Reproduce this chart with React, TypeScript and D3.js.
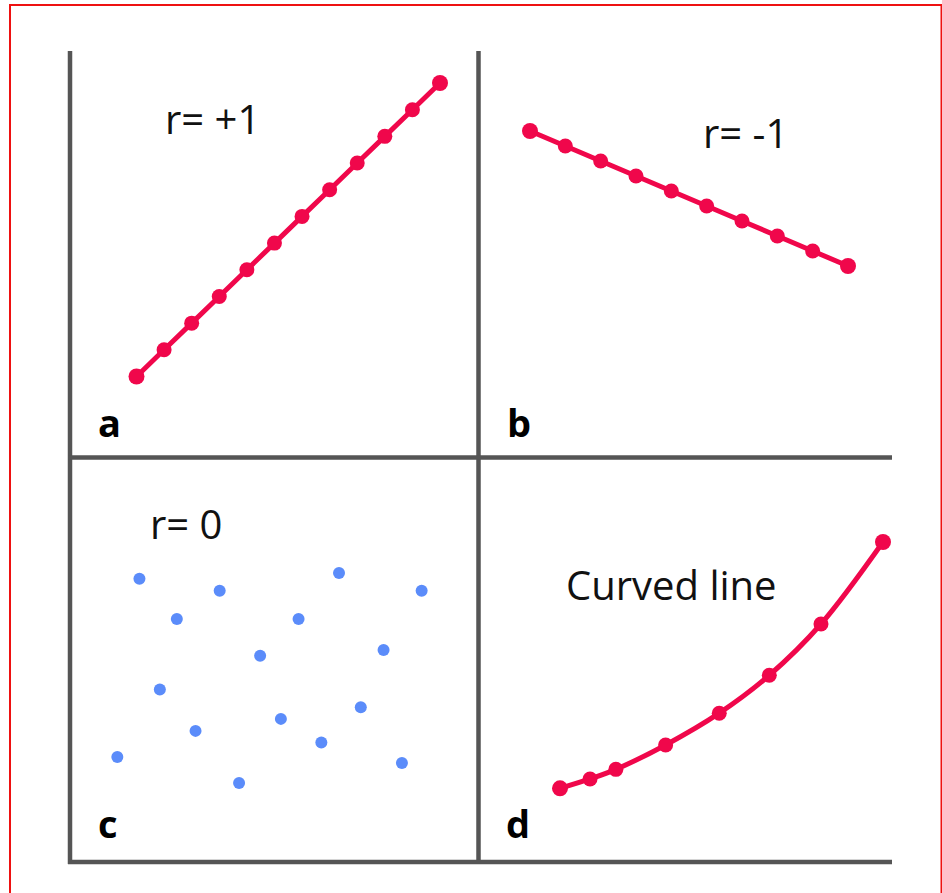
import React from "react";
import * as d3 from "d3";

// panel a: perfect positive correlation
const posX = [1, 2, 3, 4, 5, 6, 7, 8, 9, 10, 11, 12];
const posY = [1, 2, 3, 4, 5, 6, 7, 8, 9, 10, 11, 12];

// panel b: perfect negative correlation
const negX = [1, 2, 3, 4, 5, 6, 7, 8, 9, 10];
const negY = [10, 9, 8, 7, 6, 5, 4, 3, 2, 1];

// panel c: no correlation
const scatX = [11.6, 35.2, 70.3, 94.6, 22.6, 58.4, 47.1, 83.4, 17.6, 76.7, 53.2, 28.1, 65.1, 5.1, 88.8, 40.9];
const scatY = [92.2, 87.2, 94.6, 87.2, 75.4, 75.4, 60.1, 62.5, 46.0, 38.6, 33.8, 28.8, 24.0, 17.9, 15.4, 7.1];

// panel d: curved relationship
const curveX = [0, 0.93, 1.73, 3.27, 4.93, 6.48, 8.08, 10];
const curveY = [0, 0.38, 0.77, 1.76, 3.05, 4.59, 6.67, 10];

const panelLetters = ["a", "b", "c", "d"];
const panelTitles = ["r= +1", "r= -1", "r= 0", "Curved line"];

const RED = "#f0074b";
const BLUE = "#5b8cfa";
const GREY = "#555555";
const FONT = "'Open Sans', 'Noto Sans', sans-serif";

type Pt = [number, number];

function LineSeries({ pts, x, y, curve }: { pts: Pt[]; x: any; y: any; curve?: any }) {
  const gen = d3
    .line<Pt>()
    .x((d) => x(d[0]))
    .y((d) => y(d[1]))
    .curve(curve || d3.curveLinear);
  return (
    <g>
      <path d={gen(pts) || ""} fill="none" stroke={RED} strokeWidth={5} strokeLinecap="round" />
      {pts.map((d, i) => (
        <circle
          key={i}
          cx={x(d[0])}
          cy={y(d[1])}
          r={i === 0 || i === pts.length - 1 ? 8 : 7.5}
          fill={RED}
        />
      ))}
    </g>
  );
}

export default function App() {
  const aX = d3.scaleLinear().domain([1, 12]).range([136.5, 440]);
  const aY = d3.scaleLinear().domain([1, 12]).range([376.5, 83]);

  const bX = d3.scaleLinear().domain([1, 10]).range([530, 848]);
  const bY = d3.scaleLinear().domain([1, 10]).range([266, 131]);

  const cX = d3.scaleLinear().domain([0, 100]).range([100, 440]);
  const cY = d3.scaleLinear().domain([0, 100]).range([800, 560]);

  const dX = d3.scaleLinear().domain([0, 10]).range([560, 883]);
  const dY = d3.scaleLinear().domain([0, 10]).range([788.3, 542]);

  const aPts: Pt[] = posX.map((v, i) => [v, posY[i]]);
  const bPts: Pt[] = negX.map((v, i) => [v, negY[i]]);
  const cPts: Pt[] = scatX.map((v, i) => [v, scatY[i]]);
  const dPts: Pt[] = curveX.map((v, i) => [v, curveY[i]]);

  const letterPos: Pt[] = [
    [98, 437],
    [507, 437],
    [98, 838],
    [506, 838],
  ];
  const titlePos: Pt[] = [
    [165, 134],
    [703, 148],
    [150, 539],
    [566, 600],
  ];

  return (
    <div style={{ position: "absolute", left: 0, top: 0 }}>
      <svg width={942} height={893} style={{ display: "block", background: "#fff" }}>
        {/* outer red frame (no bottom edge) */}
        <path d="M10,893 V5 H941.5 V893" fill="none" stroke="#ee1111" strokeWidth={2} />

        {/* grid of axes */}
        <g stroke={GREY} strokeWidth={4.5} fill="none">
          <line x1={70} y1={51} x2={70} y2={864} />
          <line x1={478.5} y1={51} x2={478.5} y2={864} />
          <line x1={68} y1={457.5} x2={892} y2={457.5} />
          <line x1={68} y1={862} x2={892} y2={862} />
        </g>

        <LineSeries pts={aPts} x={aX} y={aY} />
        <LineSeries pts={bPts} x={bX} y={bY} />
        <g>
          {cPts.map((d, i) => (
            <circle key={i} cx={cX(d[0])} cy={cY(d[1])} r={6} fill={BLUE} />
          ))}
        </g>
        <LineSeries pts={dPts} x={dX} y={dY} curve={d3.curveCatmullRom} />

        {panelTitles.map((t, i) => (
          <text
            key={t}
            x={titlePos[i][0]}
            y={titlePos[i][1]}
            fontFamily={FONT}
            fontSize={40}
            fill="#111"
          >
            {t}
          </text>
        ))}
        {panelLetters.map((t, i) => (
          <text
            key={t}
            x={letterPos[i][0]}
            y={letterPos[i][1]}
            fontFamily={FONT}
            fontWeight="bold"
            fontSize={38}
            fill="#000"
          >
            {t}
          </text>
        ))}
      </svg>
    </div>
  );
}
